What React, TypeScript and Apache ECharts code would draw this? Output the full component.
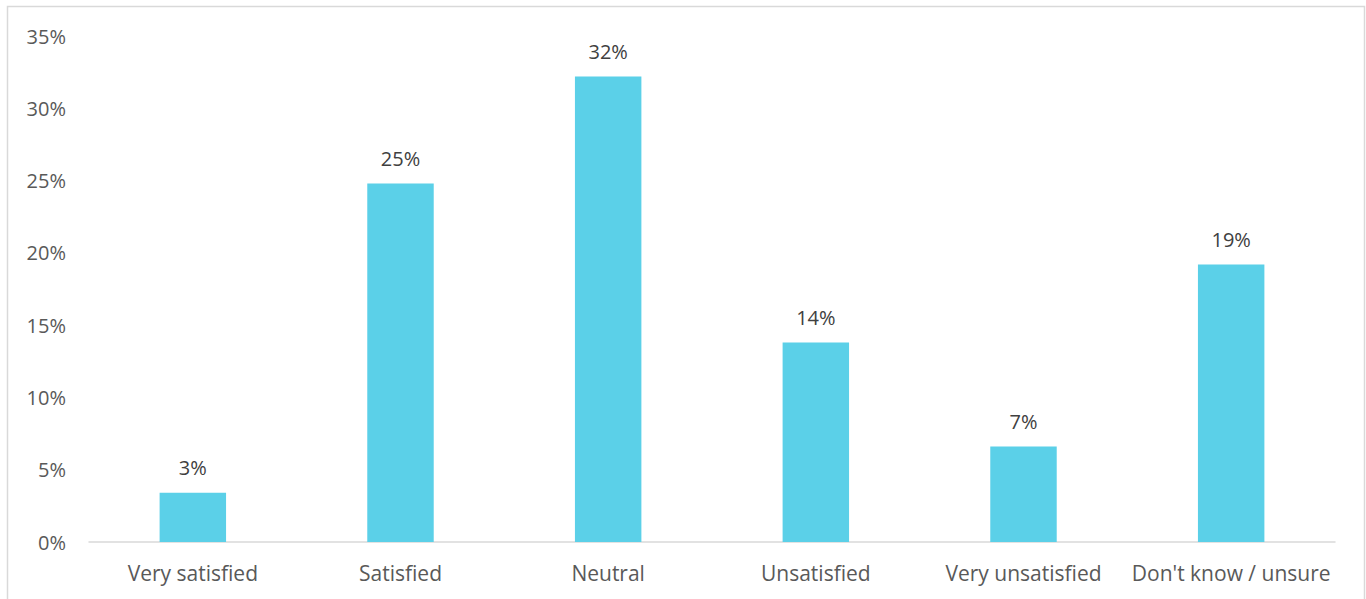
import React, { useEffect, useRef } from "react";
import * as echarts from "echarts";

const categories = ["Very satisfied", "Satisfied", "Neutral", "Unsatisfied", "Very unsatisfied", "Don't know / unsure"];
const values = [3.4, 24.8, 32.2, 13.8, 6.6, 19.2];
const yTicks = { min: 0, max: 35, interval: 5 };

export default function App() {
  const ref = useRef<HTMLDivElement>(null);
  useEffect(() => {
    const chart = echarts.init(ref.current!, null, { renderer: "svg" });
    chart.setOption({
      animation: false,
      backgroundColor: "#ffffff",
      textStyle: { fontFamily: "Open Sans" },
      graphic: [
        {
          type: "rect",
          shape: { x: 7.5, y: 6.5, width: 1357, height: 700 },
          style: { fill: "none", stroke: "#d9d9d9", lineWidth: 1.5 },
          silent: true,
        },
      ],
      grid: { left: 89, right: 31, top: 36, bottom: 57 },
      xAxis: {
        type: "category",
        data: categories,
        axisLine: { lineStyle: { color: "#d9d9d9", width: 1.5 } },
        axisTick: { show: false },
        axisLabel: { color: "#595959", fontSize: 21, margin: 20, interval: 0 },
      },
      yAxis: {
        type: "value",
        min: yTicks.min,
        max: yTicks.max,
        interval: yTicks.interval,
        splitLine: { show: false },
        axisLine: { show: false },
        axisTick: { show: false },
        axisLabel: { color: "#595959", fontSize: 20, margin: 23, formatter: "{value}%" },
      },
      series: [
        {
          type: "bar",
          data: values,
          barWidth: "32%",
          itemStyle: { color: "#5bd0e8" },
          label: {
            show: true,
            position: "top",
            distance: 15,
            color: "#404040",
            fontSize: 20,
            formatter: (p: any) => Math.round(p.value) + "%",
          },
        },
      ],
    });
    return () => chart.dispose();
  }, []);
  return <div ref={ref} style={{ position: "absolute", left: 0, top: 0, width: 1366, height: 599 }} />;
}
